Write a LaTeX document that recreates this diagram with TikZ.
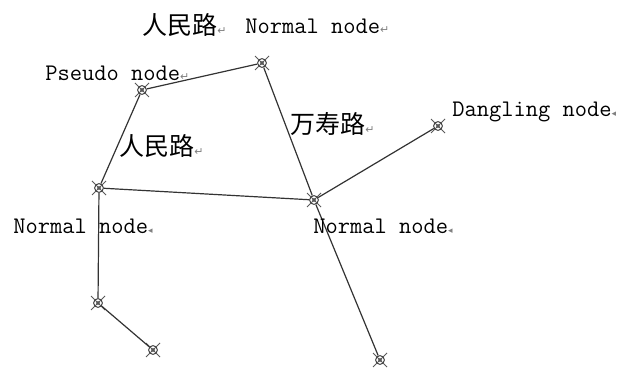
\documentclass[tikz,border=0pt]{standalone}
\usepackage{fontspec}
\newfontfamily\cjk{Noto Sans CJK SC}
\newfontfamily\symf{DejaVu Sans}
\usetikzlibrary{calc}
\newcommand{\pmark}{{\symf\color{gray}\fontsize{5.5}{6}\selectfont ↵}}
\newcommand{\tmark}{{\symf\color{gray}\fontsize{4.5}{5}\selectfont ◂}}
\tikzset{
  pt/.style={circle,draw=black!75,line width=0.5pt,inner sep=0pt,minimum size=4.4pt,
    path picture={\fill[black!55] (path picture bounding box.center) circle (1pt);}},
  road/.style={draw=black!80,line width=0.6pt},
  lbl/.style={anchor=west,inner sep=0pt,font=\ttfamily\fontsize{11.9}{13}\selectfont},
  cn/.style={anchor=west,inner sep=0pt,font=\cjk\fontsize{12.5}{14}\selectfont}
}
\begin{document}
\begin{tikzpicture}[x=0.5pt,y=-0.5pt]
\useasboundingbox (0,0) rectangle (622,369);
\node[pt] (P) at (142,90) {};
\node[pt] (N) at (262,63) {};
\node[pt] (L) at (99,188) {};
\node[pt] (M) at (314,200) {};
\node[pt] (D) at (438,126) {};
\node[pt] (B1) at (98,303) {};
\node[pt] (B2) at (153,350) {};
\node[pt] (B3) at (380,360) {};
\foreach \n in {P,N,L,M,D,B1,B2,B3}{
  \draw[black!65,line width=0.45pt] ($(\n)+(-7,-7)$) -- ($(\n)+(7,7)$);
  \draw[black!65,line width=0.45pt] ($(\n)+(-7,7)$) -- ($(\n)+(7,-7)$);
}
\draw[road] (P) -- (N);
\draw[road] (P) -- (L);
\draw[road] (L) -- (M);
\draw[road] (N) -- (M);
\draw[road] (M) -- (D);
\draw[road] (L) -- (B1);
\draw[road] (B1) -- (B2);
\draw[road] (M) -- (B3);
\node[cn] (t1) at (142,25) {人民路\pmark};
\node[lbl] (t2) at (245,26) {Normal node\pmark};
\node[lbl] (t3) at (45,73) {Pseudo node\pmark};
\node[cn] (t4) at (119,146) {人民路\pmark};
\node[cn] (t5) at (290,124) {万寿路\pmark};
\node[lbl] (t6) at (452,112) {Dangling node\tmark};
\node[lbl] (t7) at (13,226) {Normal node\tmark};
\node[lbl] (t8) at (313,226) {Normal node\tmark};
\end{tikzpicture}
\end{document}
